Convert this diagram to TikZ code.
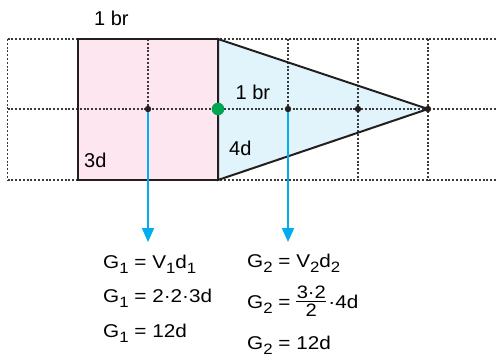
\documentclass[tikz,border=0pt]{standalone}
\usepackage{fontspec}
\setmainfont{Liberation Sans}
\newfontfamily\formfont{Liberation Sans}[FakeStretch=1.12]
\usetikzlibrary{arrows.meta}
\definecolor{outline}{HTML}{231F20}
\definecolor{pinkfill}{HTML}{FDE6EF}
\definecolor{bluefill}{HTML}{E1F3FB}
\definecolor{arrowblue}{HTML}{00AEEF}
\definecolor{dotgreen}{HTML}{00A651}
\definecolor{gridgray}{HTML}{3A3A3A}
\newcommand\lowsub[1]{\raisebox{-5.5pt}{\fontsize{15}{15}\selectfont #1}}
\newsavebox\fracnum
\newsavebox\fracden
\newlength\fracwd
\newcommand\myfrac[2]{%
  \sbox\fracnum{\fontsize{18}{18}\selectfont #1}%
  \sbox\fracden{\fontsize{18}{18}\selectfont #2}%
  \setlength\fracwd{\wd\fracnum}%
  \ifdim\wd\fracden>\fracwd\setlength\fracwd{\wd\fracden}\fi
  \addtolength\fracwd{1pt}%
  \rlap{\raisebox{9.7pt}{\makebox[\fracwd]{\usebox\fracnum}}}%
  \rlap{\raisebox{-8.7pt}{\makebox[\fracwd]{\usebox\fracden}}}%
  \raisebox{6pt}{\rule{\fracwd}{0.9pt}}\kern2pt}
\tikzset{
  gridline/.style={draw=gridgray, line width=1.1pt, dash pattern=on 2pt off 1.8pt},
  shapeline/.style={draw=outline, line width=2pt, line join=miter},
  momentarrow/.style={draw=arrowblue, line width=2pt, -{Triangle[length=14pt,width=12pt]}},
  lbl/.style={inner sep=0pt, anchor=base west, font=\fontsize{20}{24}\selectfont},
  formula/.style={inner sep=0pt, anchor=base west, font=\formfont\fontsize{18.5}{22}\selectfont},
  blackdot/.style={fill=outline},
}
\begin{document}
\begin{tikzpicture}[x=1pt,y=-1pt]
\useasboundingbox (0,0) rectangle (496,360);
% key points
\coordinate (sqTL) at (78,39);
\coordinate (sqBR) at (218,180);
\coordinate (trTop) at (218,39);
\coordinate (trBot) at (218,180);
\coordinate (apex) at (428,109);
\coordinate (mid) at (218,109);
\coordinate (c1) at (148,109);
\coordinate (c2) at (288,109);
\coordinate (c3) at (358,109);
\coordinate (end1) at (148,242);
\coordinate (end2) at (288,242);
% fills
\fill[pinkfill] (sqTL) rectangle (sqBR);
\fill[bluefill] (trTop) -- (apex) -- (trBot) -- cycle;
% grid
\draw[gridline] (7.5,39) -- (496,39);
\draw[gridline] (7.5,109) -- (496,109);
\draw[gridline] (7.5,180) -- (496,180);
\draw[gridline] (7.5,39) -- (7.5,180);
\draw[gridline] (148,39) -- (148,180);
\draw[gridline] (288,39) -- (288,180);
\draw[gridline] (358,39) -- (358,180);
\draw[gridline] (428,39) -- (428,180);
% outlines
\draw[shapeline] (sqTL) rectangle (sqBR);
\draw[shapeline] (trTop) -- (apex) -- (trBot) -- cycle;
% arrows
\draw[momentarrow] (c1) -- (end1);
\draw[momentarrow] (c2) -- (end2);
% dots
\fill[blackdot] (c1) circle (3.2pt);
\fill[blackdot] (c2) circle (3.2pt);
\fill[blackdot] (c3) circle (3.2pt);
\fill[blackdot] (apex) circle (3.2pt);
\fill[dotgreen] (mid) circle (6.3pt);
% labels
\node[lbl] (brA) at (94,25) {1 br};
\node[lbl] (dA) at (84,167) {3d};
\node[lbl] (brB) at (235.5,99) {1 br};
\node[lbl] (dB) at (229,155) {4d};
% formulas
\node[formula] (f11) at (103,268) {G\lowsub{1} = V\lowsub{1}d\lowsub{1}};
\node[formula] (f12) at (103,302) {G\lowsub{1} = 2·2·3d};
\node[formula] (f13) at (103,337) {G\lowsub{1} = 12d};
\node[formula] (f21) at (247,267) {G\lowsub{2} = V\lowsub{2}d\lowsub{2}};
\node[formula] (f22) at (247,308) {G\lowsub{2} = \myfrac{3·2}{2}·4d};
\node[formula] (f23) at (247,349) {G\lowsub{2} = 12d};
\end{tikzpicture}
\end{document}
